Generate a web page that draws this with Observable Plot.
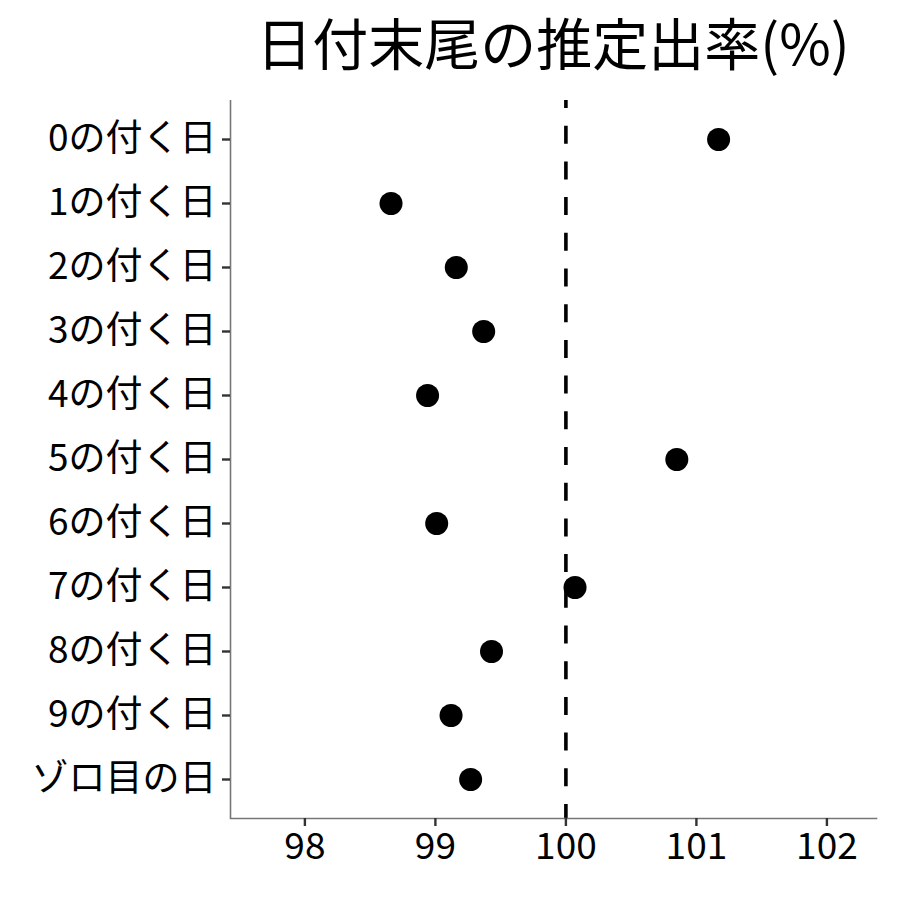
<!DOCTYPE html>
<html>
<head>
<meta charset="utf-8">
<script src="https://cdn.jsdelivr.net/npm/d3@7"></script>
<script src="https://cdn.jsdelivr.net/npm/@observablehq/plot@0.6"></script>
<style>
  html, body { margin: 0; padding: 0; background: #fff; }
  #wrap { width: 900px; height: 900px; position: relative; }
  #title { position: absolute; left: 230px; width: 646px; top: 0; height: 90px; line-height: 82px;
           text-align: center; font-family: "Noto Sans CJK JP", sans-serif; font-size: 56px; color: #000; }
  #chart { position: absolute; left: 0; top: 90px; }
</style>
</head>
<body>
<div id="wrap">
  <div id="title">日付末尾の推定出率(%)</div>
  <div id="chart"></div>
</div>
<script>
const categories = ["0の付く日", "1の付く日", "2の付く日", "3の付く日", "4の付く日", "5の付く日",
                    "6の付く日", "7の付く日", "8の付く日", "9の付く日", "ゾロ目の日"];
const values = [101.17, 98.66, 99.16, 99.37, 98.94, 100.85, 99.01, 100.07, 99.43, 99.12, 99.27];
const xTicks = [98, 99, 100, 101, 102];
const xDomain = [97.43, 102.38];
const refValue = [100];

const data = categories.map((c, i) => ({cat: c, val: values[i]}));

const chart = Plot.plot({
  width: 900,
  height: 810,
  marginTop: 10,
  marginBottom: 82,
  marginLeft: 230,
  marginRight: 24,
  style: {fontFamily: "'Noto Sans CJK JP', sans-serif", background: "#fff"},
  x: {domain: xDomain, ticks: xTicks, label: null},
  y: {domain: categories, type: "point", padding: 0.6, label: null},
  marks: [
    Plot.ruleX(refValue, {stroke: "#000", strokeWidth: 3.6, strokeDasharray: "18,17.7", strokeDashoffset: 10}),
    Plot.dot(data, {x: "val", y: "cat", r: 11.5, fill: "#000", stroke: "none"}),
    Plot.ruleX([xDomain[0]], {stroke: "#777", strokeWidth: 1.6}),
    Plot.frame({anchor: "bottom", stroke: "#777", strokeWidth: 1.6}),
    Plot.axisX(xTicks, {tickSize: 8, tickPadding: 6, stroke: "#333", strokeWidth: 2.4, fontSize: 37, fill: "#000", label: null, tickFormat: d3.format("d")}),
    Plot.axisY({tickSize: 8, tickPadding: 6, stroke: "#333", strokeWidth: 2.4, fontSize: 37, fill: "#000", label: null})
  ]
});
document.getElementById("chart").appendChild(chart);
</script>
</body>
</html>
